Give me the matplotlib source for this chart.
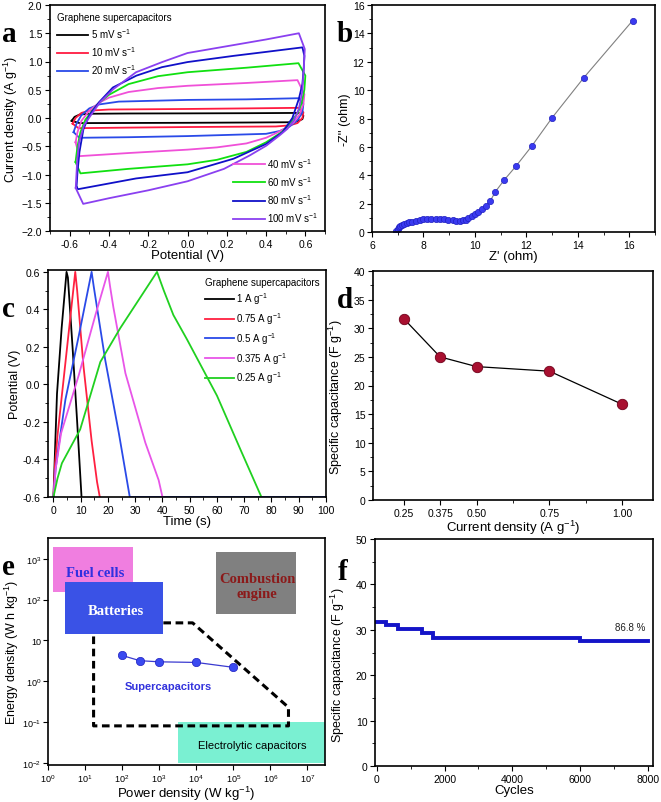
import math
import matplotlib
matplotlib.use('Agg')
import matplotlib.pyplot as plt
from matplotlib.ticker import MultipleLocator, FixedLocator, FuncFormatter, NullLocator
from matplotlib.patches import Rectangle

plt.rcParams['font.family'] = ['Liberation Sans', 'DejaVu Sans']
plt.rcParams['mathtext.fontset'] = 'custom'
plt.rcParams['mathtext.rm'] = 'Liberation Sans'
plt.rcParams['mathtext.it'] = 'Liberation Sans'

# ---- (a) CV loops, potential (V) / current density (A g-1)
cv_labels = ['5 mV s$^{-1}$', '10 mV s$^{-1}$', '20 mV s$^{-1}$', '40 mV s$^{-1}$',
             '60 mV s$^{-1}$', '80 mV s$^{-1}$', '100 mV s$^{-1}$']
cv5_v = [-0.59, -0.575, -0.55, -0.50, -0.30, 0.0, 0.30, 0.575, 0.59, 0.585, 0.56, 0.52, 0.30, 0.0, -0.30, -0.55, -0.59]
cv5_i = [-0.05, 0.02, 0.06, 0.075, 0.08, 0.082, 0.085, 0.09, 0.04, -0.02, -0.06, -0.075, -0.08, -0.085, -0.088, -0.09, -0.05]
cv10_v = [-0.585, -0.57, -0.54, -0.50, -0.40, 0.0, 0.30, 0.565, 0.59, 0.585, 0.56, 0.52, 0.45, 0.0, -0.30, -0.555, -0.585]
cv10_i = [-0.10, 0.0, 0.09, 0.13, 0.15, 0.16, 0.17, 0.18, 0.10, 0.0, -0.09, -0.13, -0.15, -0.16, -0.17, -0.18, -0.10]
cv20_v = [-0.58, -0.565, -0.54, -0.50, -0.45, -0.35, 0.0, 0.30, 0.565, 0.59, 0.585, 0.56, 0.52, 0.47, 0.40, 0.0, -0.30, -0.55, -0.58]
cv20_i = [-0.25, -0.10, 0.05, 0.17, 0.24, 0.29, 0.32, 0.33, 0.35, 0.25, 0.10, -0.04, -0.15, -0.23, -0.28, -0.32, -0.34, -0.35, -0.25]
cv40_v = [-0.57, -0.56, -0.54, -0.50, -0.45, -0.40, -0.30, -0.15, 0.0, 0.30, 0.56, 0.595, 0.59, 0.57, 0.54, 0.50,
          0.45, 0.40, 0.30, 0.15, 0.0, -0.30, -0.55, -0.57]
cv40_i = [-0.43, -0.25, -0.05, 0.13, 0.27, 0.36, 0.46, 0.53, 0.57, 0.62, 0.67, 0.42, 0.25, 0.06, -0.08, -0.18,
          -0.27, -0.35, -0.45, -0.52, -0.56, -0.62, -0.675, -0.43]
cv60_v = [-0.57, -0.56, -0.545, -0.52, -0.48, -0.45, -0.40, -0.30, -0.15, 0.0, 0.30, 0.565, 0.60, 0.595, 0.58,
          0.56, 0.52, 0.48, 0.40, 0.30, 0.15, 0.0, -0.30, -0.545, -0.57]
cv60_i = [-0.78, -0.50, -0.25, -0.03, 0.15, 0.27, 0.41, 0.60, 0.74, 0.81, 0.89, 0.97, 0.75, 0.50, 0.25,
          0.08, -0.10, -0.25, -0.43, -0.60, -0.74, -0.82, -0.90, -0.98, -0.78]
cv80_v = [-0.565, -0.56, -0.55, -0.53, -0.50, -0.45, -0.38, -0.26, -0.13, 0.0, 0.235, 0.40, 0.585, 0.595, 0.592,
          0.585, 0.567, 0.534, 0.484, 0.40, 0.235, 0.0, -0.262, -0.557, -0.565]
cv80_i = [-1.22, -0.95, -0.60, -0.20, 0.05, 0.28, 0.54, 0.75, 0.90, 0.99, 1.10, 1.17, 1.25, 1.10, 0.90,
          0.60, 0.34, 0.0, -0.25, -0.46, -0.72, -0.96, -1.07, -1.26, -1.22]
cv100_v = [-0.569, -0.561, -0.552, -0.527, -0.494, -0.445, -0.378, -0.262, -0.129, 0.0, 0.20, 0.40, 0.567, 0.597,
           0.592, 0.584, 0.567, 0.542, 0.509, 0.468, 0.401, 0.318, 0.186, 0.0, -0.20, -0.40, -0.531, -0.569]
cv100_i = [-1.24, -0.72, -0.43, -0.13, 0.04, 0.28, 0.51, 0.81, 0.99, 1.15, 1.27, 1.39, 1.50, 1.22,
           0.87, 0.46, 0.16, -0.04, -0.19, -0.31, -0.49, -0.66, -0.90, -1.12, -1.28, -1.42, -1.52, -1.24]
cv_colors = ['#000000', '#ff1a40', '#2a4ae8', '#f050d8', '#10e010', '#1010c8', '#8a40f0']

# ---- (b) Nyquist plot
z_re = [6.95, 7.0, 7.05, 7.1, 7.17, 7.25, 7.35, 7.45, 7.57, 7.7, 7.85, 8.0, 8.15, 8.3, 8.47, 8.63, 8.8,
        8.97, 9.13, 9.28, 9.42, 9.55, 9.65, 9.75, 9.87, 10.0, 10.13, 10.27, 10.42, 10.6, 10.8, 11.15,
        11.6, 12.2, 13.0, 14.23, 16.13]
z_im = [0.1, 0.2, 0.32, 0.42, 0.5, 0.57, 0.63, 0.68, 0.73, 0.8, 0.85, 0.9, 0.92, 0.93, 0.93, 0.92, 0.9,
        0.86, 0.83, 0.8, 0.8, 0.82, 0.88, 0.98, 1.1, 1.25, 1.4, 1.6, 1.85, 2.2, 2.85, 3.69,
        4.65, 6.03, 8.05, 10.87, 14.9]

# ---- (c) charge/discharge curves
gcd_labels = ['1 A g$^{-1}$', '0.75 A g$^{-1}$', '0.5 A g$^{-1}$', '0.375 A g$^{-1}$', '0.25 A g$^{-1}$']
gcd1_t = [0, 0.7, 1.3, 3.0, 4.8, 5.3, 7.0, 8.7, 10.3]
gcd1_v = [-0.6, -0.3, -0.05, 0.3, 0.6, 0.57, 0.2, -0.2, -0.6]
gcd075_t = [0, 0.6, 1.5, 3.6, 8.0, 8.7, 11.0, 14.0, 16.0, 17.0]
gcd075_v = [-0.6, -0.42, -0.27, 0.01, 0.6, 0.5, 0.1, -0.3, -0.52, -0.6]
gcd05_t = [0, 0.8, 1.7, 4.4, 9.3, 14.0, 14.8, 19.0, 24.0, 28.0, 100.0]
gcd05_v = [-0.6, -0.45, -0.35, -0.08, 0.26, 0.6, 0.52, 0.13, -0.26, -0.6, -0.6]
gcd0375_t = [0, 0.8, 2.8, 9.3, 15.4, 20.0, 20.8, 22.0, 26.4, 33.7, 38.6, 40.0]
gcd0375_v = [-0.6, -0.45, -0.26, 0.05, 0.37, 0.6, 0.52, 0.41, 0.06, -0.31, -0.51, -0.6]
gcd025_t = [0, 1.5, 3.1, 9.8, 17.2, 24.5, 38.0, 40.5, 44.0, 49.0, 60.0, 68.7, 76.3]
gcd025_v = [-0.6, -0.5, -0.42, -0.24, 0.12, 0.3, 0.6, 0.5, 0.37, 0.24, -0.06, -0.35, -0.6]
gcd_colors = ['#000000', '#ff2040', '#2a4ae8', '#e855e8', '#20d020']

# ---- (d) rate capability
cur_dens = [0.25, 0.375, 0.5, 0.75, 1.0]
spec_cap = [31.7, 25.0, 23.3, 22.5, 16.7]
cur_ticklabels = ['0.25', '0.375', '0.50', '0.75', '1.00']

# ---- (e) Ragone plot
power = [100, 300, 1000, 1e4, 1e5]
energy = [4.3, 3.2, 3.0, 2.9, 2.2]
# regions: (x0, x1, y0, y1)
fuel_box = (1.4, 200, 155, 1950)
batt_box = (2.8, 1300, 14.5, 275)
comb_box = (3.5e4, 4.8e6, 45, 1500)
elec_box = (3300, 3e7, 0.0102, 0.1)
sc_region_x = [1300, 8000, 3.1e6, 3.1e6, 17, 17]
sc_region_y = [27, 27, 0.23, 0.081, 0.081, 14.5]

# ---- (f) cycling
cycles = [0, 150, 274, 637, 1343, 1649, 6009, 8000]
cyc_cap = [31.8, 31.7, 31.1, 30.1, 29.2, 28.3, 27.5, 27.5]

fig = plt.figure(figsize=(6.61, 8.03), dpi=100)
W, H = 661.0, 803.0


def add_ax(l, r, t, b):
    return fig.add_axes([l / W, 1 - b / H, (r - l) / W, (b - t) / H])


def style(ax):
    ax.tick_params(which='both', direction='out', top=False, right=False, labelsize=7.5, pad=2)
    ax.tick_params(which='major', length=3.5, width=0.8)
    ax.tick_params(which='minor', length=2, width=0.6)
    for s in ax.spines.values():
        s.set_linewidth(1.2)


def one_dec(x, p):
    return '0.0' if abs(x) < 1e-9 else '%.1f' % x


ax_a = add_ax(50, 325, 6, 232)
ax_b = add_ax(372, 655, 6, 233)
ax_c = add_ax(48, 326, 271, 498)
ax_d = add_ax(373, 653, 272, 501)
ax_e = add_ax(48, 325, 539, 766)
ax_f = add_ax(375, 653, 540, 767)

lab_fs = 9.5
ylab_fs = 9

# (a)
cv_v = [cv5_v, cv10_v, cv20_v, cv40_v, cv60_v, cv80_v, cv100_v]
cv_i = [cv5_i, cv10_i, cv20_i, cv40_i, cv60_i, cv80_i, cv100_i]
handles = []
for v, i, c, lb in zip(cv_v, cv_i, cv_colors, cv_labels):
    h, = ax_a.plot(v, i, color=c, lw=1.3, label=lb)
    handles.append(h)
ax_a.set_xlim(-0.7, 0.7)
ax_a.set_ylim(-2.0, 2.0)
ax_a.xaxis.set_major_locator(MultipleLocator(0.2))
ax_a.xaxis.set_minor_locator(MultipleLocator(0.1))
ax_a.yaxis.set_major_locator(MultipleLocator(0.5))
ax_a.yaxis.set_minor_locator(MultipleLocator(0.25))
ax_a.xaxis.set_major_formatter(FuncFormatter(one_dec))
ax_a.set_xlabel('Potential (V)', fontsize=lab_fs, labelpad=0)
ax_a.set_ylabel('Current density (A g$^{-1}$)', fontsize=ylab_fs, labelpad=1)
leg1 = ax_a.legend(handles=handles[:3], title='Graphene supercapacitors', loc='upper left',
                   frameon=False, fontsize=7, title_fontsize=7, handlelength=3.2, handletextpad=0.3,
                   labelspacing=0.45, borderaxespad=0.3, alignment='left')
ax_a.add_artist(leg1)
ax_a.legend(handles=handles[3:], loc='lower right', frameon=False, fontsize=7, handlelength=3.2,
            handletextpad=0.3, labelspacing=0.45, borderaxespad=0.3)
style(ax_a)

# (b)
ax_b.plot(z_re, z_im, color='#808080', lw=0.8, marker='o', ms=4.5, mfc='#3a3af0', mec='#2020c0', mew=0.5)
ax_b.set_xlim(6, 17)
ax_b.set_ylim(0, 16)
ax_b.xaxis.set_major_locator(MultipleLocator(2))
ax_b.xaxis.set_minor_locator(MultipleLocator(1))
ax_b.yaxis.set_major_locator(MultipleLocator(2))
ax_b.yaxis.set_minor_locator(MultipleLocator(1))
ax_b.set_xlabel("Z' (ohm)", fontsize=lab_fs, labelpad=0)
ax_b.set_ylabel("-Z'' (ohm)", fontsize=ylab_fs, labelpad=1)
style(ax_b)

# (c)
gcd_t = [gcd1_t, gcd075_t, gcd05_t, gcd0375_t, gcd025_t]
gcd_v = [gcd1_v, gcd075_v, gcd05_v, gcd0375_v, gcd025_v]
for t, v, c, lb in zip(gcd_t, gcd_v, gcd_colors, gcd_labels):
    ax_c.plot(t, v, color=c, lw=1.3, label=lb)
ax_c.set_xlim(-2, 100)
ax_c.set_ylim(-0.6, 0.61)
ax_c.xaxis.set_major_locator(MultipleLocator(10))
ax_c.xaxis.set_minor_locator(MultipleLocator(5))
ax_c.yaxis.set_major_locator(FixedLocator([-0.6, -0.4, -0.2, 0.0, 0.2, 0.4, 0.6]))
ax_c.yaxis.set_minor_locator(MultipleLocator(0.1))
ax_c.yaxis.set_major_formatter(FuncFormatter(one_dec))
ax_c.set_xlabel('Time (s)', fontsize=lab_fs, labelpad=0)
ax_c.set_ylabel('Potential (V)', fontsize=ylab_fs, labelpad=1)
ax_c.legend(title='Graphene supercapacitors', loc='upper right', frameon=False, fontsize=7,
            title_fontsize=7, handlelength=3.0, handletextpad=0.2, labelspacing=0.4,
            borderaxespad=0.3, alignment='left')
style(ax_c)

# (d)
ax_d.plot(cur_dens, spec_cap, color='black', lw=0.9, marker='o', ms=7.5, mfc='#a81030',
          mec='#70001a', mew=0.6)
ax_d.set_xlim(0.145, 1.105)
ax_d.set_ylim(0, 40)
ax_d.xaxis.set_major_locator(FixedLocator(cur_dens))
ax_d.xaxis.set_major_formatter(FuncFormatter(
    lambda x, p: cur_ticklabels[p] if p is not None and p < len(cur_ticklabels) else ''))
ax_d.xaxis.set_minor_locator(FixedLocator([0.625, 0.875]))
ax_d.yaxis.set_major_locator(MultipleLocator(5))
ax_d.yaxis.set_minor_locator(MultipleLocator(2.5))
ax_d.set_xlabel('Current density (A g$^{-1}$)', fontsize=lab_fs, labelpad=0)
ax_d.set_ylabel('Specific capacitance (F g$^{-1}$)', fontsize=ylab_fs, labelpad=1)
ax_d.yaxis.set_label_coords(-0.1, 0.455)
style(ax_d)

# (e)
ax_e.set_xscale('log')
ax_e.set_yscale('log')
ax_e.set_xlim(1, 3e7)
ax_e.set_ylim(10 ** -2.05, 10 ** 3.51)
for (x0, x1, y0, y1), fc in zip([fuel_box, batt_box, comb_box, elec_box],
                                ['#f07ee0', '#3a52e6', '#808080', '#7af0d2']):
    ax_e.add_patch(Rectangle((x0, y0), x1 - x0, y1 - y0, facecolor=fc, edgecolor='none', zorder=1))
ax_e.plot(sc_region_x, sc_region_y, color='black', lw=2.2, ls=(0, (2.5, 1.5)), zorder=2)
ax_e.plot(power, energy, color='#3a3ad0', lw=0.9, marker='o', ms=6, mfc='#3a4af0', mec='#2020c0',
          mew=0.5, zorder=3)
serif = ['Liberation Serif', 'DejaVu Serif']
ax_e.text(19, 455, 'Fuel cells', family=serif, weight='bold', fontsize=10.5,
          color='#3030e0', ha='center', va='center', zorder=4)
ax_e.text(66, 54, 'Batteries', family=serif, weight='bold', fontsize=10.5,
          color='white', ha='center', va='center', zorder=4)
ax_e.text(10 ** 5.65, 10 ** 2.33, 'Combustion\nengine', family=serif, weight='bold',
          fontsize=10.5, color='#8b1a1a', ha='center', va='center', linespacing=1.2, zorder=4)
ax_e.text(3.3e5, 10 ** -1.56, 'Electrolytic capacitors', fontsize=8, color='black',
          ha='center', va='center', zorder=4)
ax_e.text(10 ** 3.25, 10 ** -0.11, 'Supercapacitors', fontsize=8, weight='bold', color='#3333dd',
          ha='center', va='center', zorder=4)
ax_e.xaxis.set_major_locator(FixedLocator([10.0 ** k for k in range(0, 8)]))
ax_e.xaxis.set_minor_locator(NullLocator())
ax_e.xaxis.set_major_formatter(FuncFormatter(lambda x, p: '$10^{%d}$' % round(math.log10(x))))
ax_e.yaxis.set_major_locator(FixedLocator([10.0 ** k for k in range(-2, 4)]))
ax_e.yaxis.set_minor_locator(NullLocator())


def yfmt(y, p):
    k = round(math.log10(y))
    return '10' if k == 1 else '$10^{%d}$' % k


ax_e.yaxis.set_major_formatter(FuncFormatter(yfmt))
ax_e.set_xlabel('Power density (W kg$^{-1}$)', fontsize=lab_fs, labelpad=0)
ax_e.set_ylabel('Energy density (W h kg$^{-1}$)', fontsize=ylab_fs, labelpad=1)
style(ax_e)
ax_e.tick_params(labelsize=6.5, pad=1.5)

# (f)
ax_f.step(cycles, cyc_cap, where='post', color='#1414c8', lw=2.8, solid_joinstyle='miter')
ax_f.text(7920, 29.6, '86.8 %', fontsize=7, ha='right', va='bottom', color='#222222')
ax_f.set_xlim(-50, 8150)
ax_f.set_ylim(0, 50)
ax_f.xaxis.set_major_locator(MultipleLocator(2000))
ax_f.xaxis.set_minor_locator(MultipleLocator(1000))
ax_f.yaxis.set_major_locator(MultipleLocator(10))
ax_f.yaxis.set_minor_locator(MultipleLocator(5))
ax_f.set_xlabel('Cycles', fontsize=lab_fs, labelpad=0)
ax_f.set_ylabel('Specific capacitance (F g$^{-1}$)', fontsize=ylab_fs, labelpad=1)
ax_f.yaxis.set_label_coords(-0.1, 0.45)
style(ax_f)

# panel letters
for x, y, s in [(2, 42, 'a'), (337, 42, 'b'), (2, 317, 'c'), (337, 308, 'd'), (2, 575, 'e'), (338, 580, 'f')]:
    fig.text(x / W, 1 - y / H, s, family=serif, weight='bold', fontsize=21, ha='left', va='baseline')

fig.savefig('out.png', dpi=100)
